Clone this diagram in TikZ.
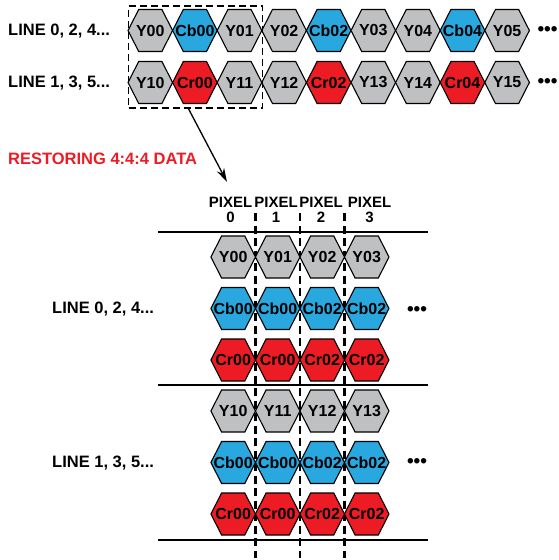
\documentclass[tikz,border=0pt]{standalone}
\usepackage{fontspec}
\setmainfont{Liberation Sans}
\usetikzlibrary{shapes.symbols,arrows.meta}
\definecolor{ygrey}{HTML}{BFC0C2}
\definecolor{cbblue}{HTML}{29A8E0}
\definecolor{crred}{HTML}{ED1C24}
% cell text takes no width, so the hexagon size comes from the minimum sizes
\newcommand\celltext[1]{\makebox[0pt]{#1}}
\tikzset{
  hexcell/.style={shape=signal, signal to=east and west, signal pointer angle=126,
    draw=black, line width=1.1pt, inner sep=0pt, outer sep=0pt,
    minimum width=44.6pt, minimum height=42pt,
    font=\bfseries\fontsize{16}{16}\selectfont},
  ycell/.style={hexcell, fill=ygrey},
  cbcell/.style={hexcell, fill=cbblue},
  crcell/.style={hexcell, fill=crred},
  rowlabel/.style={anchor=west, inner sep=0pt, font=\bfseries\fontsize{16.5}{16.5}\selectfont},
  dotsmark/.style={inner sep=0pt, font=\bfseries\fontsize{19}{19}\selectfont},
  pixlabel/.style={inner sep=0pt, align=center, font=\bfseries\fontsize{15}{15}\selectfont},
  rule/.style={line width=1.3pt},
  pixdiv/.style={line width=2.2pt, dash pattern=on 8pt off 4.5pt},
  groupbox/.style={draw, line width=1.5pt, dash pattern=on 7pt off 4pt, inner sep=0pt}
}
\begin{document}
\begin{tikzpicture}[x=1pt, y=-1pt]
\useasboundingbox (0,0) rectangle (559,560);

% ---- 4:2:2 sample stream ----
\node[rowlabel] (l0) at (8,31) {LINE 0, 2, 4...};
\node[rowlabel] (l1) at (8,83) {LINE 1, 3, 5...};

\foreach \lab/\sty [count=\i from 0] in
  {Y00/ycell, Cb00/cbcell, Y01/ycell, Y02/ycell, Cb02/cbcell, Y03/ycell, Y04/ycell, Cb04/cbcell, Y05/ycell}
  \node[\sty] (a\i) at (150.3+44.6*\i, 30.5) {\celltext{\lab}};
\foreach \lab/\sty [count=\i from 0] in
  {Y10/ycell, Cr00/crcell, Y11/ycell, Y12/ycell, Cr02/crcell, Y13/ycell, Y14/ycell, Cr04/crcell, Y15/ycell}
  \node[\sty] (b\i) at (150.3+44.6*\i, 82.5) {\celltext{\lab}};
\node[dotsmark] (d0) at (547.5,31) {•••};
\node[dotsmark] (d1) at (547.5,83) {•••};

% first pixel pair, outlined
\node[groupbox, minimum width=134pt, minimum height=102pt] (grp) at (195.5,57) {};

% ---- restoring ----
\node[rowlabel, text=crred] (rest) at (8,159) {RESTORING 4:4:4 DATA};
\coordinate (tip) at (227,182);
\draw[line width=1.3pt, -{Stealth[length=14pt, width=8pt]}] ([xshift=-7pt]grp.south) -- (tip);

% ---- 4:4:4 pixels ----
\foreach \px/\i in {230.5/0, 276/1, 321/2, 369.5/3}
  \node[pixlabel] (p\i) at (\px, 210) {PIXEL\\\i};

\coordinate (r0a) at (158,232);  \coordinate (r0b) at (428,232);
\coordinate (r1a) at (158,385);  \coordinate (r1b) at (428,385);
\coordinate (r2a) at (158,540);  \coordinate (r2b) at (428,540);
\draw[rule] (r0a) -- (r0b);
\draw[rule] (r1a) -- (r1b);
\draw[rule, line width=1.7pt] (r2a) -- (r2b);

\foreach \k in {1,2,3} {
  \coordinate (v\k a) at (211+44.5*\k, 213);
  \coordinate (v\k b) at (211+44.5*\k, 558);
  \draw[pixdiv] (v\k a) -- (v\k b);
}

\foreach \lab/\sty [count=\i from 0] in {Y00/ycell, Y01/ycell, Y02/ycell, Y03/ycell}
  \node[\sty] (c\i) at (233.2+44.5*\i, 257) {\celltext{\lab}};
\foreach \lab/\sty [count=\i from 0] in {Cb00/cbcell, Cb00/cbcell, Cb02/cbcell, Cb02/cbcell}
  \node[\sty] (e\i) at (233.2+44.5*\i, 308.5) {\celltext{\lab}};
\foreach \lab/\sty [count=\i from 0] in {Cr00/crcell, Cr00/crcell, Cr02/crcell, Cr02/crcell}
  \node[\sty] (f\i) at (233.2+44.5*\i, 360) {\celltext{\lab}};

\foreach \lab/\sty [count=\i from 0] in {Y10/ycell, Y11/ycell, Y12/ycell, Y13/ycell}
  \node[\sty] (g\i) at (233.2+44.5*\i, 411) {\celltext{\lab}};
\foreach \lab/\sty [count=\i from 0] in {Cb00/cbcell, Cb00/cbcell, Cb02/cbcell, Cb02/cbcell}
  \node[\sty] (h\i) at (233.2+44.5*\i, 462.5) {\celltext{\lab}};
\foreach \lab/\sty [count=\i from 0] in {Cr00/crcell, Cr00/crcell, Cr02/crcell, Cr02/crcell}
  \node[\sty] (k\i) at (233.2+44.5*\i, 514) {\celltext{\lab}};

\node[rowlabel] (m0) at (52,309) {LINE 0, 2, 4...};
\node[rowlabel] (m1) at (52,463) {LINE 1, 3, 5...};
\node[dotsmark] (d2) at (417,311) {•••};
\node[dotsmark] (d3) at (417,463) {•••};
\end{tikzpicture}
\end{document}
